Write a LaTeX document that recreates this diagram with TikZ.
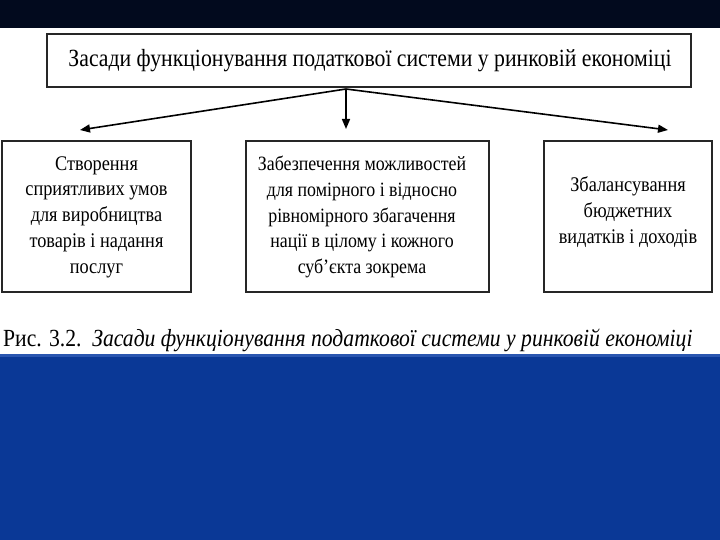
\documentclass[tikz,border=0pt]{standalone}
\usepackage{fontspec}
\setmainfont{Liberation Serif}[FakeStretch=0.88]
\usetikzlibrary{arrows.meta}
\definecolor{topbar}{HTML}{020A1E}
\definecolor{bottomblue}{HTML}{0A3896}
\definecolor{bluelight}{HTML}{2A56B0}
\tikzset{
  frame/.style={draw=black!85, line width=1.3pt, fill=white, inner sep=0pt},
  boxtext/.style={align=center, font=\fontsize{20.8pt}{25.8pt}\selectfont},
  conn/.style={line width=1.6pt, black, -{Triangle[length=10pt,width=8pt]}}
}
\begin{document}
\begin{tikzpicture}[x=1pt,y=-1pt]
\useasboundingbox (0,0) rectangle (720,540);
\fill[white] (0,0) rectangle (720,540);
\fill[topbar] (0,0) rectangle (720,28);
\fill[bottomblue] (0,354) rectangle (720,540);
\fill[bluelight] (0,354) rectangle (720,357);
% title
\node[frame, minimum width=644pt, minimum height=53pt] (title) at (369,60.5) {};
\node[font=\fontsize{24.7pt}{30pt}\selectfont] (titletext) at (370,61) {Засади функціонування податкової системи у ринковій економіці};
% boxes
\node[frame, minimum width=189pt, minimum height=151pt] (left) at (96.5,216.5) {};
\node[frame, minimum width=243pt, minimum height=151pt] (mid) at (367.5,216.5) {};
\node[frame, minimum width=168pt, minimum height=151pt] (right) at (628,216.5) {};
\node[boxtext] (lefttext) at (96.5,217) {Створення\\сприятливих умов\\для виробництва\\товарів і надання\\послуг};
\node[boxtext, font=\fontsize{20.3pt}{25.8pt}\selectfont] (midtext) at (362,217) {Забезпечення можливостей\\для помірного і відносно\\рівномірного збагачення\\нації в цілому і кожного\\суб’єкта зокрема};
\node[boxtext] (righttext) at (628,212) {Збалансування\\бюджетних\\видатків і доходів};
% connectors
\coordinate (apex) at (346,89);
\coordinate (tipL) at (80,130);
\coordinate (tipM) at (346,129);
\coordinate (tipR) at (668,130);
\draw[conn] (apex) -- (tipL);
\draw[conn] (apex) -- (tipM);
\draw[conn] (apex) -- (tipR);
% caption
\node[anchor=base west, inner sep=0pt, font=\fontsize{24.6pt}{28pt}\selectfont] (caption) at (3,346) {Рис. 3.2.\ \ \textit{Засади функціонування податкової системи у ринковій економіці}};
\end{tikzpicture}
\end{document}
